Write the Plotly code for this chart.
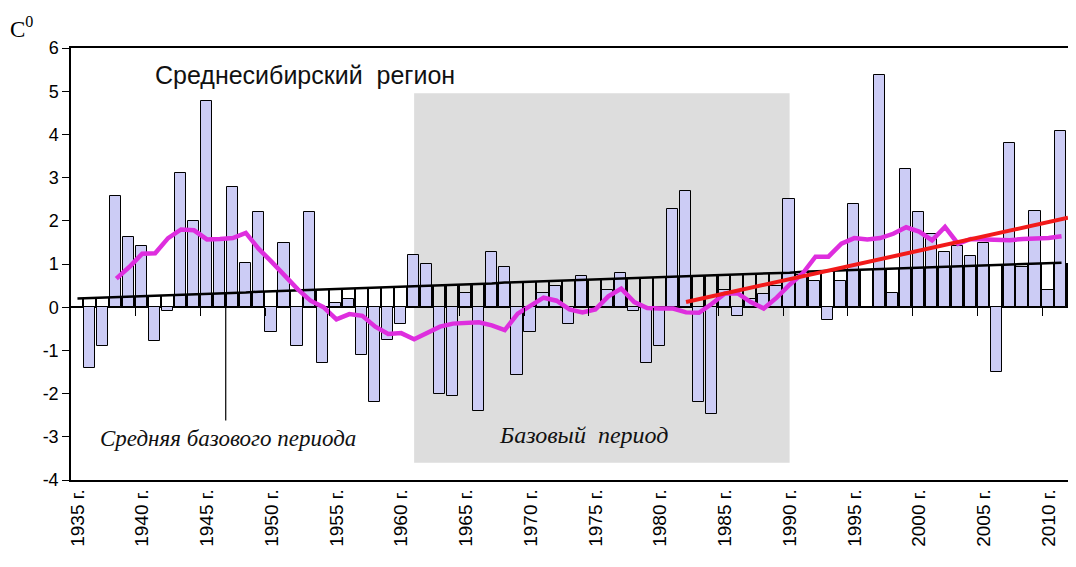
import plotly.graph_objects as go

years = list(range(1935, 2012))

anomaly = [None, -1.4, -0.9, 2.57, 1.62, 1.41, -0.78, -0.08, 3.1, 2.0,
           4.77, 1.55, 2.78, 1.02, 2.2, -0.58, 1.48, -0.9, 2.2, -1.3,
           0.1, 0.19, -1.1, -2.2, -0.76, -0.38, 1.2, 1.0, -2.0, -2.06,
           0.32, -2.4, 1.28, 0.92, -1.58, -0.58, 0.32, 0.5, -0.38, 0.72,
           0.0, 0.39, 0.8, -0.08, -1.3, -0.9, 2.28, 2.69, -2.2, -2.48,
           0.39, -0.2, 0.2, 0.3, 0.5, 2.5, 0.75, 0.6, -0.29, 0.6,
           2.38, 0.0, 5.37, 0.32, 3.19, 2.2, 1.69, 1.28, 1.41, 1.18,
           1.49, -1.5, 3.8, 0.93, 2.22, 0.39, 4.07]

trend_all = [0.20, 0.21, 0.22, 0.23, 0.24, 0.25, 0.26, 0.28, 0.29, 0.30,
             0.31, 0.32, 0.33, 0.34, 0.36, 0.37, 0.38, 0.39, 0.40, 0.41,
             0.42, 0.43, 0.44, 0.46, 0.47, 0.48, 0.49, 0.50, 0.51, 0.52,
             0.53, 0.54, 0.55, 0.57, 0.58, 0.59, 0.60, 0.61, 0.62, 0.63,
             0.64, 0.65, 0.66, 0.67, 0.68, 0.70, 0.71, 0.72, 0.73, 0.74,
             0.75, 0.76, 0.77, 0.78, 0.79, 0.80, 0.82, 0.83, 0.84, 0.85,
             0.86, 0.87, 0.88, 0.89, 0.90, 0.91, 0.92, 0.93, 0.95, 0.96,
             0.97, 0.98, 0.99, 1.00, 1.01, 1.02, 1.03]

smooth_years = list(range(1938, 2012))
smooth = [0.66, 0.93, 1.24, 1.25, 1.6, 1.8, 1.78, 1.57, 1.58, 1.6,
          1.72, 1.35, 1.05, 0.72, 0.42, 0.15, 0.0, -0.28, -0.16, -0.2,
          -0.45, -0.62, -0.6, -0.74, -0.6, -0.45, -0.38, -0.36, -0.35, -0.42,
          -0.53, -0.15, 0.05, 0.22, 0.15, -0.05, -0.12, -0.05, 0.25, 0.43,
          0.12, -0.02, -0.03, -0.03, -0.12, -0.13, 0.08, 0.32, 0.32, 0.12,
          -0.03, 0.22, 0.52, 0.78, 1.17, 1.17, 1.47, 1.6, 1.57, 1.6,
          1.7, 1.85, 1.75, 1.55, 1.86, 1.47, 1.58, 1.57, 1.55, 1.55,
          1.58, 1.59, 1.6, 1.64]

recent_trend_x = [1982, 2011.5]
recent_trend_y = [0.12, 2.07]

base_period = [1961, 1990]
base_box_y = [-3.6, 4.95]
pointer_x = 1946.45
pointer_y = [0.33, -2.62]

y_ticks = [-4, -3, -2, -1, 0, 1, 2, 3, 4, 5, 6]
y_tick_text = [str(v) for v in y_ticks]
tick_years = [1935, 1940, 1945, 1950, 1955, 1960, 1965, 1970, 1975,
              1980, 1985, 1990, 1995, 2000, 2005, 2010]
tick_text = [f"{y} г." for y in tick_years]
zero_ticks = [1939.5, 1944.5, 1949.5, 1954.5, 1959.5, 1964.5, 1969.5,
              1974.5, 1979.5, 1984.5, 1989.5, 1994.5, 1999.5, 2004.5, 2009.5]

SANS = "Liberation Sans, Arial, sans-serif"
SERIF = "Liberation Serif, Times New Roman, serif"

fig = go.Figure()

fig.add_trace(go.Bar(x=years, y=anomaly, width=0.86, offset=-0.48,
                     marker=dict(color="#CCCCF5", line=dict(color="black", width=1)),
                     showlegend=False, hoverinfo="x+y"))
fig.add_trace(go.Bar(x=years, y=trend_all, width=0.13, offset=0.38,
                     marker=dict(color="black", line=dict(width=0)),
                     showlegend=False, hoverinfo="skip"))
fig.add_trace(go.Scatter(x=years, y=trend_all, mode="lines",
                         line=dict(color="black", width=2.5), showlegend=False))
fig.add_trace(go.Scatter(x=smooth_years, y=smooth, mode="lines",
                         line=dict(color="#DE2EDE", width=4.5), showlegend=False))
fig.add_trace(go.Scatter(x=recent_trend_x, y=recent_trend_y, mode="lines",
                         line=dict(color="#F21A1A", width=4), showlegend=False))
# invisible trace so the zero-line tick axis is drawn
fig.add_trace(go.Scatter(x=[years[0]], y=[0], xaxis="x2", mode="markers",
                         marker=dict(opacity=0, size=1), showlegend=False, hoverinfo="skip"))

fig.add_shape(type="rect", xref="x", yref="y",
              x0=base_period[0], x1=base_period[1], y0=base_box_y[0], y1=base_box_y[1],
              fillcolor="#DDDDDD", line=dict(width=0), layer="below")
fig.add_shape(type="line", xref="x", yref="y",
              x0=pointer_x, x1=pointer_x, y0=pointer_y[0], y1=pointer_y[1],
              line=dict(color="black", width=1.2))

fig.add_annotation(text="Среднесибирский\u00a0 регион", x=1952.6, y=5.37,
                   xref="x", yref="y", showarrow=False,
                   font=dict(family=SANS, size=25, color="#111"))
fig.add_annotation(text="<i>Средняя базового периода</i>", x=1946.6, y=-3.03,
                   xref="x", yref="y", showarrow=False,
                   font=dict(family=SERIF, size=23, color="#111"))
fig.add_annotation(text="<i>Базовый\u00a0 период</i>", x=1974.1, y=-2.96,
                   xref="x", yref="y", showarrow=False,
                   font=dict(family=SERIF, size=24, color="#111"))
fig.add_annotation(text="C<sup>0</sup>", x=-0.063, y=1.048, xref="paper", yref="paper",
                   xanchor="left", yanchor="middle",
                   showarrow=False, font=dict(family=SERIF, size=23, color="black"))

fig.update_layout(
    width=1068, height=559, autosize=False,
    margin=dict(l=63, r=6, t=40, b=87, pad=0),
    paper_bgcolor="white", plot_bgcolor="white",
    barmode="overlay", bargap=0,
    xaxis=dict(range=[1934.5, 2011.5], tickvals=tick_years, ticktext=tick_text,
               tickangle=-90, ticks="", showgrid=False, zeroline=False,
               showline=True, mirror=True, linecolor="black", linewidth=1.5,
               tickfont=dict(family=SANS, size=19, color="black")),
    xaxis2=dict(range=[1934.5, 2011.5], overlaying="x", anchor="free", position=0.4,
                side="bottom", tickvals=zero_ticks, ticks="outside", ticklen=8,
                tickcolor="black", tickwidth=1, showticklabels=False,
                showgrid=False, zeroline=False, showline=False),
    yaxis=dict(range=[-4, 6], tickvals=y_ticks, ticktext=y_tick_text,
               ticks="outside", ticklen=7, tickcolor="black",
               showgrid=False, zeroline=True, zerolinecolor="black", zerolinewidth=1.5,
               showline=True, mirror=True, linecolor="black", linewidth=1.5,
               tickfont=dict(family=SANS, size=18, color="black")),
)

fig.write_html("out.html")
